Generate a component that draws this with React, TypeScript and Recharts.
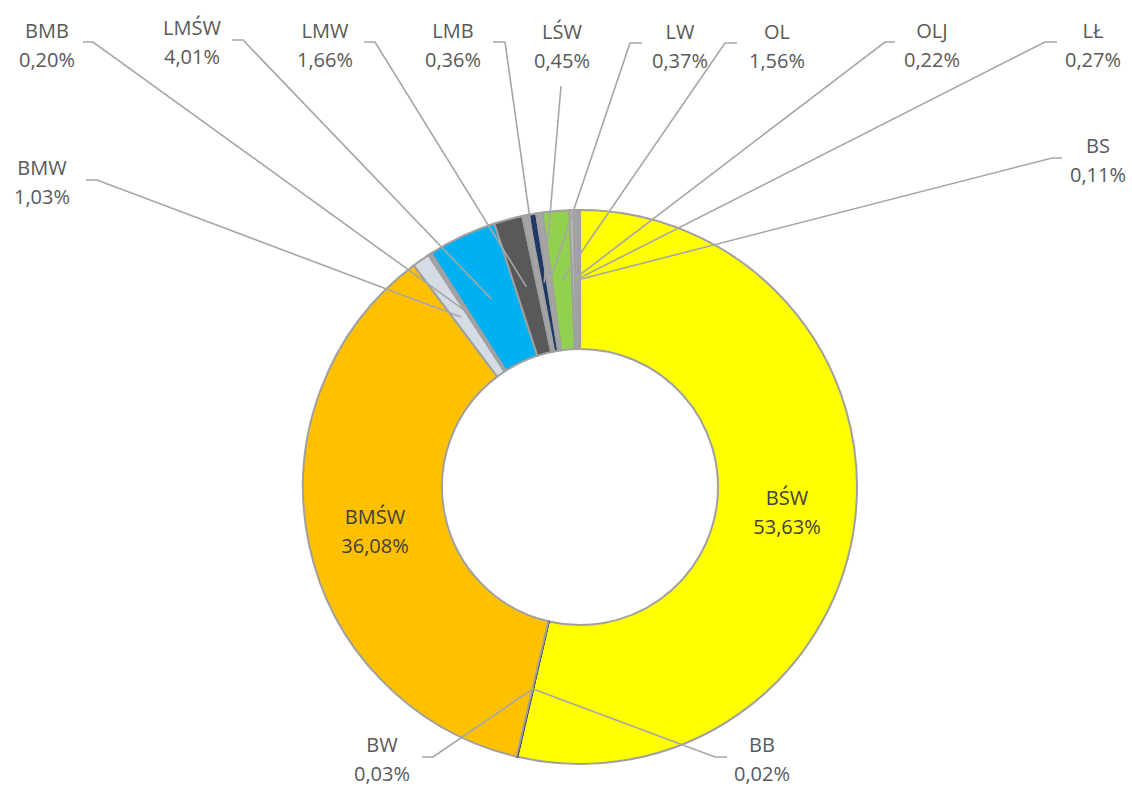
import { PieChart, Pie, Cell } from 'recharts';

const categories = ['BŚW', 'BB', 'BW', 'BMŚW', 'BMW', 'BMB', 'LMŚW', 'LMW', 'LMB', 'LŚW', 'LW', 'OL', 'OLJ', 'LŁ', 'BS'];
const shares = [53.63, 0.02, 0.03, 36.08, 1.03, 0.2, 4.01, 1.66, 0.36, 0.45, 0.37, 1.56, 0.22, 0.27, 0.11];
const sliceColors = ['#FFFF00', '#404040', '#404040', '#FFC000', '#D6DCE5', '#A5A5A5', '#00B0F0', '#595959', '#A5A5A5', '#203864', '#A5A5A5', '#92D050', '#BFBFBF', '#A5A5A5', '#262626'];

// label placement (text centre, first line y, leader stub start -> bend)
type LabelPos = { x: number; y: number; stub?: [number, number, number, number]; inside?: boolean };
const labelPos: Record<string, LabelPos> = {
    'BŚW': { x: 787, y: 497, inside: true },
    'BMŚW': { x: 375, y: 516, inside: true },
    'BB': { x: 762, y: 744, stub: [727, 757, 715, 757] },
    'BW': { x: 382, y: 744, stub: [422, 757, 433, 757] },
    'BMW': { x: 42, y: 167, stub: [86, 180, 97, 180] },
    'BMB': { x: 47, y: 30, stub: [83, 42, 93, 42] },
    'LMŚW': { x: 192, y: 27, stub: [232, 40, 243, 40] },
    'LMW': { x: 325, y: 30, stub: [364, 42, 375, 42] },
    'LMB': { x: 453, y: 30, stub: [493, 42, 505, 42] },
    'LŚW': { x: 562, y: 31, stub: [561, 86, 561, 86] },
    'LW': { x: 680, y: 31, stub: [642, 43, 630, 43] },
    'OL': { x: 777, y: 31, stub: [737, 43, 725, 43] },
    'OLJ': { x: 932, y: 30, stub: [895, 42, 885, 42] },
    'LŁ': { x: 1093, y: 30, stub: [1057, 42, 1045, 42] },
    'BS': { x: 1098, y: 145, stub: [1062, 158, 1052, 158] },
};

const data = categories.map((name, i) => ({ name, value: shares[i] }));

const fmt = (v: number) => v.toFixed(2).replace('.', ',') + '%';
const RAD = Math.PI / 180;

const renderLabel = (props: any) => {
    const { cx, cy, midAngle, innerRadius, outerRadius, name, value } = props;
    const pos = labelPos[name];
    if (!pos) return null;
    const r = (innerRadius + outerRadius) / 2;
    const px = cx + r * Math.cos(-midAngle * RAD);
    const py = cy + r * Math.sin(-midAngle * RAD);
    const textColor = pos.inside ? '#404040' : '#595959';
    return (
        <g>
            {pos.stub && (
                <polyline
                    points={`${pos.stub[0]},${pos.stub[1]} ${pos.stub[2]},${pos.stub[3]} ${px},${py}`}
                    fill="none"
                    stroke="#A6A6A6"
                    strokeWidth={1.6}
                />
            )}
            <text x={pos.x} y={pos.y} textAnchor="middle" dominantBaseline="central" fill={textColor}
                style={{ fontFamily: 'Open Sans', fontSize: 20 }}>
                {name}
            </text>
            <text x={pos.x} y={pos.y + 29} textAnchor="middle" dominantBaseline="central" fill={textColor}
                style={{ fontFamily: 'Open Sans', fontSize: 20 }}>
                {fmt(value)}
            </text>
        </g>
    );
};

export default function App() {
    return (
        <div style={{ width: 1132, height: 787, background: '#fff' }}>
            <style>{'body{margin:0}'}</style>
            <PieChart width={1132} height={787} margin={{ top: 0, right: 0, bottom: 0, left: 0 }}>
                <Pie
                    data={data}
                    dataKey="value"
                    nameKey="name"
                    cx={580}
                    cy={487}
                    innerRadius={138}
                    outerRadius={277}
                    startAngle={90}
                    endAngle={-270}
                    stroke="#A0A0A0"
                    strokeWidth={2}
                    label={renderLabel}
                    labelLine={false}
                    isAnimationActive={false}
                >
                    {data.map((d, i) => (
                        <Cell
                            key={`cell-${d.name}`}
                            fill={sliceColors[i]}
                            stroke={d.name === 'BB' || d.name === 'BW' ? '#404040' : '#A0A0A0'}
                        />
                    ))}
                </Pie>
            </PieChart>
        </div>
    );
}
